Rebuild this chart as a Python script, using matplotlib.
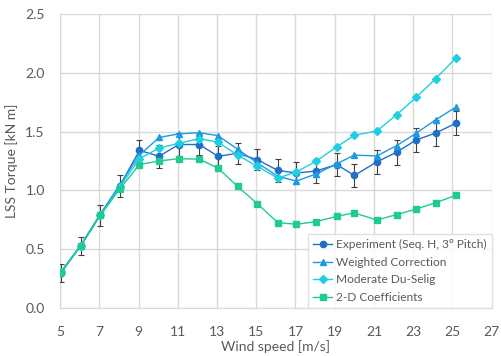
import matplotlib
matplotlib.use("Agg")
import matplotlib.pyplot as plt

plt.rcParams['font.family'] = ['Lato', 'DejaVu Sans']

wind = [5.05, 6.05, 7.05, 8.05, 9.05, 10.05, 11.05, 12.1, 13.05, 14.05, 15.05,
        16.1, 17.05, 18.05, 19.1, 20.0, 21.15, 22.15, 23.15, 24.15, 25.2]

experiment = [0.30, 0.53, 0.79, 1.04, 1.34, 1.29, 1.39, 1.39, 1.29, 1.315, 1.262,
              1.17, 1.148, 1.165, 1.22, 1.127, 1.243, 1.324, 1.428, 1.488, 1.572]
exp_err = [0.08, 0.078, 0.088, 0.095, 0.085, 0.1, 0.1, 0.09, 0.09, 0.09, 0.09,
           0.1, 0.09, 0.1, 0.1, 0.1, 0.1, 0.105, 0.105, 0.11, 0.105]

weighted = [0.31, 0.535, 0.80, 1.05, 1.30, 1.45, 1.48, 1.49, 1.465, 1.35, 1.235,
            1.12, 1.08, 1.14, 1.226, 1.30, 1.293, 1.38, 1.485, 1.60, 1.71]

moderate = [0.31, 0.53, 0.79, 1.03, 1.27, 1.36, 1.40, 1.44, 1.41, 1.30, 1.205,
            1.105, 1.157, 1.248, 1.37, 1.468, 1.505, 1.642, 1.789, 1.95, 2.127]

coeff_2d = [0.31, 0.527, 0.789, 1.014, 1.22, 1.25, 1.27, 1.265, 1.19, 1.034, 0.888,
            0.727, 0.713, 0.735, 0.78, 0.81, 0.749, 0.795, 0.842, 0.896, 0.96]

labels = ["Experiment (Seq. H, 3° Pitch)", "Weighted Correction",
          "Moderate Du-Selig", "2-D Coefficients"]
colors = ["#1F6FC6", "#1C9AE3", "#1ECFE0", "#1FCB92"]

fig = plt.figure(figsize=(5.01, 3.56), dpi=100)
ax = fig.add_axes([0.1198, 0.134, 0.9814 - 0.1198, 0.9615 - 0.134])

ax.errorbar(wind, experiment, yerr=exp_err, fmt='none', ecolor='#404040',
            elinewidth=0.8, capsize=2, capthick=0.8, zorder=3)
ax.plot(wind, experiment, '-o', color=colors[0], lw=1.0, ms=4.5, label=labels[0], zorder=4)
ax.plot(wind, weighted, '-^', color=colors[1], lw=1.0, ms=4.8, label=labels[1], zorder=5)
ax.plot(wind, moderate, '-D', color=colors[2], lw=1.0, ms=4.2, label=labels[2], zorder=6)
ax.plot(wind, coeff_2d, '-s', color=colors[3], lw=1.0, ms=4.2, label=labels[3], zorder=7)

ax.set_xlim(5, 27)
ax.set_ylim(0, 2.5)
ax.set_xticks(range(5, 28, 2))
ax.set_yticks([0, 0.5, 1.0, 1.5, 2.0, 2.5])
ax.set_yticklabels([f"{v:.1f}" for v in [0, 0.5, 1.0, 1.5, 2.0, 2.5]])
ax.grid(True, color='#D9D9D9', lw=1.0)
ax.set_axisbelow(True)
for s in ax.spines.values():
    s.set_visible(False)
ax.spines['left'].set_visible(True)
ax.spines['bottom'].set_visible(True)
ax.spines['left'].set_color('#D9D9D9')
ax.spines['bottom'].set_color('#D9D9D9')
ax.tick_params(length=0, labelsize=10, colors='#595959')
ax.tick_params(axis='x', pad=13)
ax.tick_params(axis='y', pad=11)
ax.set_xlabel("Wind speed [m/s]", fontsize=10, color='#595959', labelpad=1)
ax.set_ylabel("LSS Torque [kN m]", fontsize=10, color='#595959', labelpad=5)

leg = ax.legend(loc='lower right', fontsize=8.6, frameon=True, fancybox=False,
                edgecolor='#D9D9D9', handlelength=1.6, handletextpad=0.3,
                labelspacing=0.55, borderpad=0.45, borderaxespad=0.0)
leg.get_frame().set_linewidth(1.0)
for t in leg.get_texts():
    t.set_color('#595959')

fig.savefig("out.png", dpi=100)
